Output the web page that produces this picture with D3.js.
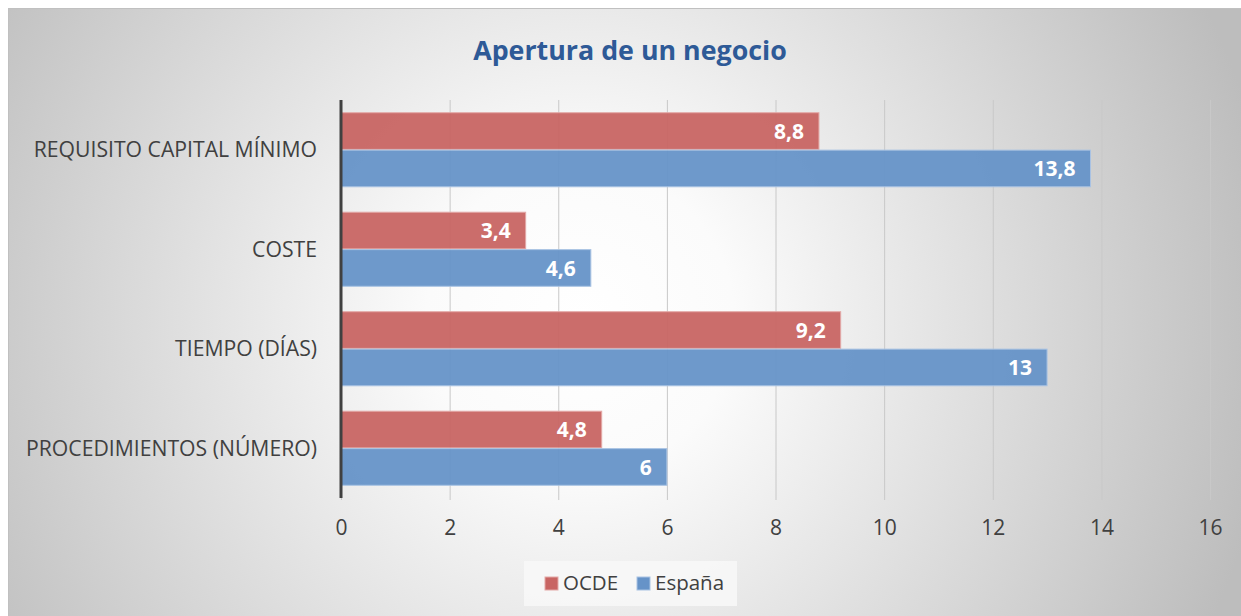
<!DOCTYPE html>
<html>
<head>
<meta charset="utf-8">
<script src="https://cdn.jsdelivr.net/npm/d3@7"></script>
<style>
  body { margin: 0; background: #fff; }
  svg { display: block; font-family: "Open Sans", "Noto Sans", sans-serif; }
</style>
</head>
<body>
<script>
let categories = ['REQUISITO CAPITAL MÍNIMO', 'COSTE', 'TIEMPO (DÍAS)', 'PROCEDIMIENTOS (NÚMERO)']
let seriesNames = ['OCDE', 'España']
let ocde = [8.8, 3.4, 9.2, 4.8]
let espana = [13.8, 4.6, 13, 6]
let ticks = [0, 2, 4, 6, 8, 10, 12, 14, 16]

let width = 1241
let height = 616
let colors = ['#c86563', '#6693c8']
let strokes = ['#e3a9a7', '#a9c3e3']

let data = categories.map((c, i) => ({ name: c, OCDE: ocde[i], 'España': espana[i] }))

let margin = ({top: 100, right: 31, bottom: 118, left: 341})

const svg = d3.select('body').append('svg')
    .attr('width', width)
    .attr('height', height)

let defs = svg.append('defs')
let grad = defs.append('radialGradient')
    .attr('id', 'bg')
    .attr('gradientUnits', 'userSpaceOnUse')
    .attr('cx', 580).attr('cy', 320).attr('r', 700)
grad.append('stop').attr('offset', '0%').attr('stop-color', '#ffffff')
grad.append('stop').attr('offset', '22%').attr('stop-color', '#fbfbfb')
grad.append('stop').attr('offset', '100%').attr('stop-color', '#bdbdbd')

// chart area
svg.append('rect')
    .attr('x', 8).attr('y', 8)
    .attr('width', width - 8).attr('height', height - 8)
    .attr('fill', 'url(#bg)')
svg.append('line')
    .attr('x1', 8).attr('x2', width).attr('y1', 8.5).attr('y2', 8.5)
    .attr('stroke', '#c0c0c0')
svg.append('line')
    .attr('x1', 8.5).attr('x2', 8.5).attr('y1', 8).attr('y2', height)
    .attr('stroke', '#c0c0c0')

let x = d3.scaleLinear()
    .domain([0, 16])
    .range([margin.left, width - margin.right])

let y = d3.scaleBand()
    .domain(categories)
    .range([margin.top, height - margin.bottom])
    .paddingInner(0)

let y1 = d3.scaleBand()
    .domain(seriesNames)
    .range([0, y.bandwidth()])
    .paddingInner(0.02)
    .paddingOuter(0.34)

// gridlines + ticks
let xAxis = g => g
    .attr('transform', `translate(0,${height - margin.bottom})`)
    .call(d3.axisBottom(x).tickValues(ticks).tickSizeOuter(0))
    .call(g => g.selectAll('.domain').remove())
    .call(g => g.selectAll('.tick line')
        .attr('y1', -(height - margin.bottom - margin.top))
        .attr('y2', 2)
        .attr('stroke', '#c8c8c8'))
    .call(g => g.selectAll('.tick text')
        .attr('y', 22)
        .attr('dy', '0.71em')
        .attr('fill', '#404040')
        .style('font-size', '21px')
        .style('font-family', '"Open Sans", sans-serif'))

svg.append('g').call(xAxis)

// legend background
svg.append('rect')
    .attr('x', 524).attr('y', 561)
    .attr('width', 213).attr('height', 45)
    .attr('fill', '#f7f7f7')
    .attr('fill-opacity', 0.9)

// bars
let groups = svg.append('g')
  .selectAll('g')
  .data(data)
  .join('g')
    .attr('transform', d => `translate(0,${y(d.name)})`)

groups.selectAll('rect')
  .data(d => seriesNames.map((k, i) => ({ key: k, i, value: d[k] })))
  .join('rect')
    .attr('x', x(0))
    .attr('y', d => y1(d.key))
    .attr('width', d => x(d.value) - x(0))
    .attr('height', y1.bandwidth())
    .attr('fill', d => colors[d.i])
    .attr('fill-opacity', 0.95)
    .attr('stroke', d => strokes[d.i])
    .attr('stroke-width', 1)

let fmt = v => String(v).replace('.', ',')

groups.selectAll('text')
  .data(d => seriesNames.map((k, i) => ({ key: k, i, value: d[k] })))
  .join('text')
    .attr('x', d => x(d.value) - 15)
    .attr('y', d => y1(d.key) + y1.bandwidth() / 2)
    .attr('dy', '0.36em')
    .attr('text-anchor', 'end')
    .attr('fill', '#ffffff')
    .style('font-size', '21px')
    .style('font-weight', 'bold')
    .text(d => fmt(d.value))

// category axis
svg.append('line')
    .attr('x1', x(0)).attr('x2', x(0))
    .attr('y1', margin.top).attr('y2', height - margin.bottom)
    .attr('stroke', '#404040')
    .attr('stroke-width', 3)

svg.append('g')
  .selectAll('text')
  .data(categories)
  .join('text')
    .attr('x', 317)
    .attr('y', d => y(d) + y.bandwidth() / 2)
    .attr('dy', '0.36em')
    .attr('text-anchor', 'end')
    .attr('fill', '#404040')
    .style('font-size', '21.2px')
    .text(d => d)

// title
svg.append('text')
    .attr('x', 630)
    .attr('y', 60)
    .attr('text-anchor', 'middle')
    .attr('fill', '#2e5a97')
    .style('font-size', '26.8px')
    .style('font-weight', 'bold')
    .text('Apertura de un negocio')

// legend
let legendX = [545, 637]
let items = svg.append('g')
  .selectAll('g')
  .data(seriesNames)
  .join('g')
    .attr('transform', (d, i) => `translate(${legendX[i]},583)`)
items.append('rect')
    .attr('x', 0).attr('y', -6)
    .attr('width', 13).attr('height', 13)
    .attr('fill', (d, i) => colors[i])
    .attr('stroke', (d, i) => strokes[i])
items.append('text')
    .attr('x', 18)
    .attr('dy', '0.36em')
    .attr('fill', '#404040')
    .style('font-size', '20.5px')
    .text(d => d)
</script>
</body>
</html>
